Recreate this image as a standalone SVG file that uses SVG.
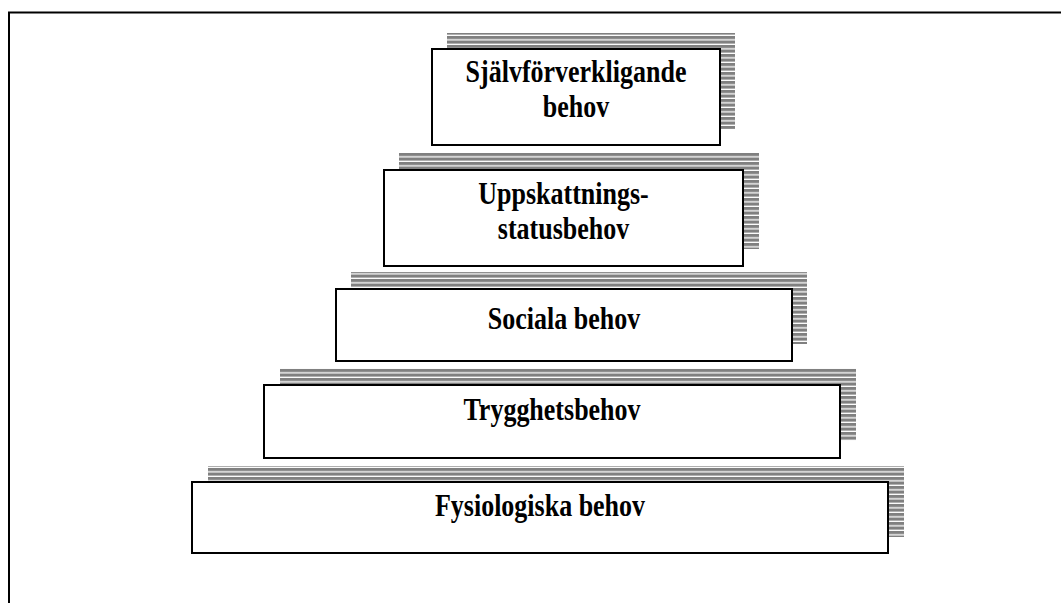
<svg xmlns="http://www.w3.org/2000/svg" width="1061" height="603" viewBox="0 0 1061 603">
<style>
.box{fill:#fff;stroke:#000;stroke-width:2}
.sh{fill:url(#stripes)}
.t{font-family:"Liberation Serif","Times New Roman",serif;font-weight:bold;font-size:26px;text-anchor:middle;fill:#000}
</style>
<defs>
<pattern id="stripes" patternUnits="userSpaceOnUse" x="0" y="0" width="8" height="4.5">
<rect x="0" y="0" width="8" height="3.2" fill="#808080"/>
</pattern>
</defs>
<rect width="1061" height="603" fill="#fff"/>
<path d="M9,603 V12.5 H1061" fill="none" stroke="#000" stroke-width="2"/>
<g id="selfactualization">
<rect class="sh" x="447" y="33" width="288" height="96"/>
<rect class="box" x="432" y="49" width="288" height="96"/>
<text class="t" transform="translate(576,82) scale(1,1.18)">Självförverkligande</text>
<text class="t" transform="translate(576,117) scale(1,1.18)">behov</text>
</g>
<g id="esteem">
<rect class="sh" x="399" y="153" width="360" height="96"/>
<rect class="box" x="384" y="170" width="359" height="96"/>
<text class="t" transform="translate(563.5,204) scale(1,1.18)">Uppskattnings-</text>
<text class="t" transform="translate(563.5,239) scale(1,1.18)">statusbehov</text>
</g>
<g id="social">
<rect class="sh" x="351" y="272" width="456" height="72"/>
<rect class="box" x="336" y="289" width="456" height="72"/>
<text class="t" transform="translate(564,329) scale(1,1.18)">Sociala behov</text>
</g>
<g id="safety">
<rect class="sh" x="280" y="368" width="576" height="73"/>
<rect class="box" x="264" y="385" width="576" height="73"/>
<text class="t" transform="translate(552,420) scale(1,1.18)">Trygghetsbehov</text>
</g>
<g id="physiological">
<rect class="sh" x="208" y="466" width="696" height="71"/>
<rect class="box" x="192" y="482" width="696" height="71"/>
<text class="t" transform="translate(540,516) scale(1,1.18)">Fysiologiska behov</text>
</g>
<g id="connectors"></g>
</svg>
